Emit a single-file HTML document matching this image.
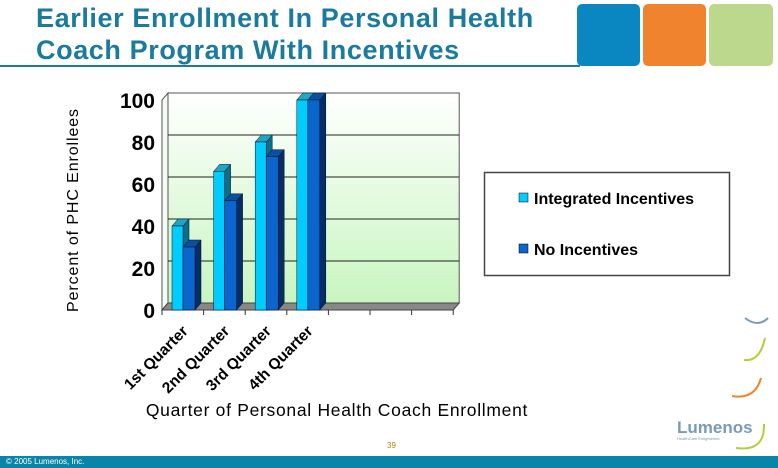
<!DOCTYPE html>
<html><head><meta charset="utf-8"><style>
body{margin:0;width:778px;height:468px;overflow:hidden;background:#fff;font-family:"Liberation Sans",sans-serif;position:relative}
.t{position:absolute;left:36px;top:2px;font-size:27px;font-weight:bold;color:#1a7b9c;line-height:32px;letter-spacing:0.6px}
</style></head><body>
<div class="t">Earlier Enrollment In Personal Health<br>Coach Program With Incentives</div>
<div style="position:absolute;left:0;top:65px;width:580px;height:2px;background:#1a7b9c"></div>
<div style="position:absolute;left:577px;top:4px;width:63px;height:62px;background:#0a87c0;border-radius:5px"></div>
<div style="position:absolute;left:643px;top:4px;width:63px;height:62px;background:#f0832e;border-radius:5px"></div>
<div style="position:absolute;left:709px;top:4px;width:64px;height:62px;background:#bcd88c;border-radius:5px"></div>
<svg id="c" width="778" height="468" style="position:absolute;left:0;top:0">
<defs><linearGradient id="g" x1="0" y1="0" x2="0" y2="1"><stop offset="0" stop-color="#ffffff"/><stop offset="1" stop-color="#c8f5c0"/></linearGradient></defs>
</svg>
<div style="position:absolute;left:0;top:456px;width:778px;height:12px;background:#0a85aa"></div>
<div style="position:absolute;left:6px;top:457px;font-size:8px;color:#fff">© 2005 Lumenos, Inc.</div>
<div style="position:absolute;left:387px;top:441px;font-size:8px;color:#b08a00">39</div>
<div style="position:absolute;left:677px;top:418px;font-size:17px;font-weight:bold;color:#7a9ab8">Lumenos</div>
<div style="position:absolute;left:677px;top:436px;font-size:4px;color:#7a9ab8">HealthCare Enlightened</div>
<script>
const categories=["1st Quarter","2nd Quarter","3rd Quarter","4th Quarter"];
const integrated=[40,66,80,100];
const none=[30,52,73,100];
const yTicks=[0,20,40,60,80,100];
const NS="http://www.w3.org/2000/svg",s=document.getElementById('c');
function el(t,a,p){const e=document.createElementNS(NS,t);for(const k in a)e.setAttribute(k,a[k]);(p||s).appendChild(e);return e;}
const x0=162,slot=41.6,nSlots=7,y0=310,h=210,dx=6,dy=-7;
const Y=v=>y0-v/100*h, X=i=>x0+i*slot;
let w=el('rect',{x:x0+dx,y:Y(100)+dy,width:nSlots*slot,height:h,fill:'url(#g)',stroke:'#555','stroke-width':1});

let sw=el('polygon',{points:`${x0},${Y(0)} ${x0+dx},${Y(0)+dy} ${x0+dx},${Y(100)+dy} ${x0},${Y(100)}`,fill:'#f4fbf2',stroke:'#555','stroke-width':1});

yTicks.forEach(v=>{
 if(v>0&&v<100){let g=el('line',{x1:x0+dx,x2:x0+dx+nSlots*slot,y1:Y(v)+dy,y2:Y(v)+dy,stroke:'#222','stroke-width':1});
 }
 let t=el('text',{x:x0-7,y:Y(v)+8,'text-anchor':'end','font-size':21,'font-weight':'bold',fill:'#000'});t.textContent=v;
 
});
let fl=el('polygon',{points:`${x0},${y0} ${x0+nSlots*slot},${y0} ${x0+nSlots*slot+dx},${y0+dy} ${x0+dx},${y0+dy}`,fill:'#888',stroke:'#444','stroke-width':1});

for(let i=0;i<=nSlots;i++){let tk=el('line',{x1:X(i),x2:X(i),y1:y0,y2:y0+5,stroke:'#333'});
 }
function bar(x,v,wd,front,side,top,name){
 const g=el('g',{});
 const yt=Y(v);
 el('polygon',{points:`${x+wd},${y0} ${x+wd+dx},${y0+dy} ${x+wd+dx},${yt+dy} ${x+wd},${yt}`,fill:side,stroke:'#012','stroke-width':.5},g);
 el('polygon',{points:`${x},${yt} ${x+dx},${yt+dy} ${x+wd+dx},${yt+dy} ${x+wd},${yt}`,fill:top,stroke:'#012','stroke-width':.5},g);
 el('rect',{x:x,y:yt,width:wd,height:y0-yt,fill:front,stroke:'#012','stroke-width':.5},g);
}
categories.forEach((c,i)=>{
 const bx=X(i)+10;
 bar(bx,integrated[i],11,'#00ccff','#0b6f8a','#1ea6c4','bar-integrated-'+(i+1));
 bar(bx+11,none[i],12,'#0a66cc','#062e66','#0a4fa0','bar-none-'+(i+1));
 const cx=X(i)+slot/2+6,cy=y0+22;
 let t=el('text',{x:cx,y:cy,'text-anchor':'end','font-size':15.5,'font-weight':'bold',transform:`rotate(-45 ${cx} ${cy})`});t.textContent=c;
 
});
let yt=el('text',{x:78,y:210,'text-anchor':'middle','font-size':16,'letter-spacing':'0.9',transform:'rotate(-90 78 210)'});yt.textContent='Percent of PHC Enrollees';

let xt=el('text',{x:337,y:416,'text-anchor':'middle','font-size':17.5,'letter-spacing':'0.7'});xt.textContent='Quarter of Personal Health Coach Enrollment';

let lg=el('rect',{x:484.5,y:172.5,width:245,height:103,fill:'#fff',stroke:'#444','stroke-width':1.5});

[['Integrated Incentives','#00ccff',198],['No Incentives','#0a66cc',249]].forEach(([n,c,y],i)=>{
 let r=el('rect',{x:519,y:y-5,width:9,height:9,fill:c,stroke:'#000','stroke-width':.5});
 
 let t=el('text',{x:534,y:y+6,'font-size':16,'font-weight':'bold'});t.textContent=n;
 
});
[['M745,318 Q758,328 768,318','#7a9ab8'],['M744,360 Q760,362 765,338','#b7cc3a'],['M732,396 Q755,400 761,378','#f0832e'],['M736,448 Q765,452 764,424','#b7cc3a']].forEach(([d,c])=>{
 let p=el('path',{d:d,fill:'none',stroke:c,'stroke-width':2});
});
</script>
</body></html>
